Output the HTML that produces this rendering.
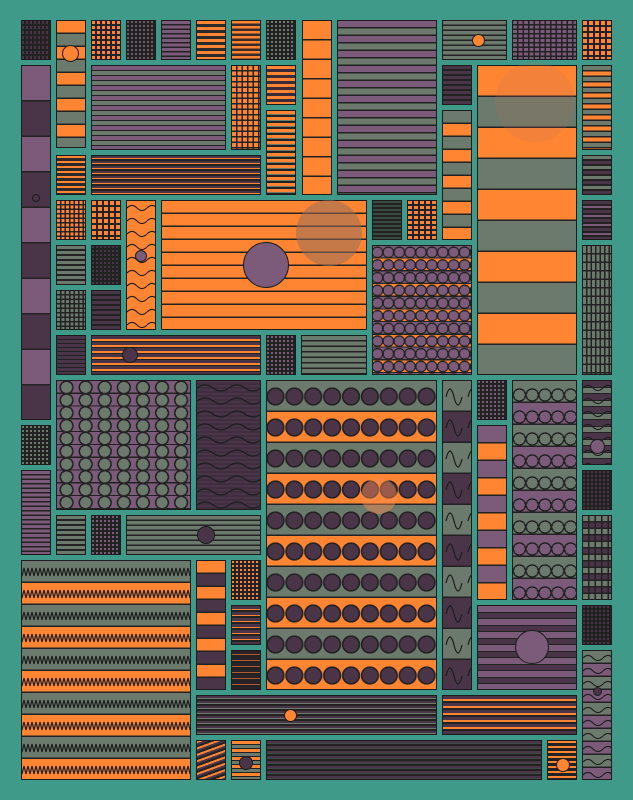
<!DOCTYPE html>
<html><head><meta charset="utf-8"><style>
*{margin:0;padding:0}
body{width:633px;height:800px;overflow:hidden;background:#3f9a89;position:relative}
.b{position:absolute;border:1.5px solid #1c1c1c;box-sizing:border-box;overflow:hidden}
.c{position:absolute;border-radius:50%;border:1.2px solid #1c1c1c;box-sizing:border-box}
svg.w{position:absolute;left:0;top:0;width:100%;height:100%}
</style></head><body>
<svg width="0" height="0" style="position:absolute"><defs>
<pattern id="wv" width="12" height="22" patternUnits="userSpaceOnUse"><path d="M0 11 Q3 3 6 11 T12 11" fill="none" stroke="#1c1c1c" stroke-width="1.2"/></pattern>
<pattern id="wv2" width="20" height="13" patternUnits="userSpaceOnUse"><path d="M0 7 Q5 2 10 7 T20 7" fill="none" stroke="#1c1c1c" stroke-width="1.1"/></pattern>
<pattern id="wv3" width="22" height="31" patternUnits="userSpaceOnUse"><path d="M3 16 Q7 0 11 16 T19 16" fill="none" stroke="#1c1c1c" stroke-width="1.2"/></pattern>
<pattern id="zz" width="8" height="22" patternUnits="userSpaceOnUse"><path d="M0 15 L2 7 L4 15 L6 7 L8 15" fill="none" stroke="#1c1c1c" stroke-width="1.2"/></pattern>
</defs></svg>

<!-- row 1 -->
<div class="b" style="left:21px;top:20px;width:30px;height:40px;background:repeating-linear-gradient(90deg,transparent 0 2px,#222 2px 4px),repeating-linear-gradient(transparent 0 3px,#222 3px 5px),#4a3448"></div>
<div class="b" style="left:56px;top:20px;width:30px;height:128px;background:repeating-linear-gradient(#ff8533 0 11.5px,#222 11.5px 13px,#6b7a6c 13px 24.5px,#222 24.5px 26px)"></div>
<div class="c" style="left:62px;top:45px;width:17px;height:17px;background:#ff8533"></div>
<div class="b" style="left:91px;top:20px;width:30px;height:40px;background:repeating-linear-gradient(90deg,transparent 0 3px,#222 3px 5px),repeating-linear-gradient(transparent 0 3px,#222 3px 5px),#ff8533"></div>
<div class="b" style="left:126px;top:20px;width:30px;height:40px;background:repeating-linear-gradient(90deg,transparent 0 2px,#222 2px 4px),repeating-linear-gradient(transparent 0 2px,#222 2px 4px),#6b5a6a"></div>
<div class="b" style="left:161px;top:20px;width:30px;height:40px;background:repeating-linear-gradient(#7b5a7a 0 3px,#222 3px 4.5px)"></div>
<div class="b" style="left:196px;top:20px;width:30px;height:40px;background:repeating-linear-gradient(#ff8533 0 3px,#2a2a2a 3px 6px)"></div>
<div class="b" style="left:231px;top:20px;width:30px;height:40px;background:repeating-linear-gradient(#ff8533 0 2.5px,#3a2a2a 2.5px 5px)"></div>
<div class="b" style="left:266px;top:20px;width:30px;height:40px;background:repeating-linear-gradient(90deg,transparent 0 2px,#222 2px 4px),repeating-linear-gradient(transparent 0 2px,#222 2px 4px),#6b7a6c"></div>
<div class="b" style="left:302px;top:20px;width:30px;height:175px;background:repeating-linear-gradient(#ff8533 0 18px,#222 18px 19.5px)"></div>
<div class="b" style="left:337px;top:20px;width:100px;height:175px;background:repeating-linear-gradient(#7b5a7a 0 6px,#222 6px 7.5px,#6b7a6c 7.5px 13.5px,#222 13.5px 15px)"></div>
<div class="b" style="left:442px;top:20px;width:65px;height:40px;background:repeating-linear-gradient(#6b7a6c 0 3.5px,#222 3.5px 5px)"></div>
<div class="c" style="left:472px;top:34px;width:13px;height:13px;background:#ff8533"></div>
<div class="b" style="left:512px;top:20px;width:65px;height:40px;background:repeating-linear-gradient(90deg,transparent 0 4px,#222 4px 5.5px),repeating-linear-gradient(transparent 0 3px,#222 3px 4.5px),#7b5a7a"></div>
<div class="b" style="left:582px;top:20px;width:30px;height:40px;background:repeating-linear-gradient(90deg,transparent 0 4px,#222 4px 6px),repeating-linear-gradient(transparent 0 4px,#222 4px 6px),#ff8533"></div>

<!-- row 2 -->
<div class="b" style="left:21px;top:65px;width:30px;height:355px;background:repeating-linear-gradient(#7b5a7a 0 34px,#222 34px 35.5px,#4a3448 35.5px 69.5px,#222 69.5px 71px)"></div>
<div class="c" style="left:32px;top:194px;width:8px;height:8px;background:#4a3448"></div>
<div class="b" style="left:91px;top:65px;width:135px;height:85px;background:repeating-linear-gradient(#7b5a7a 0 4px,#222 4px 5px,#6b7a6c 5px 9px,#222 9px 10px)"></div>
<div class="b" style="left:231px;top:65px;width:30px;height:85px;background:repeating-linear-gradient(90deg,transparent 0 4px,#222 4px 5.5px),repeating-linear-gradient(transparent 0 4px,#222 4px 5.5px),#ff8533"></div>
<div class="b" style="left:266px;top:65px;width:30px;height:40px;background:repeating-linear-gradient(#ff8533 0 3px,#3a2a3a 3px 6px)"></div>
<div class="b" style="left:266px;top:110px;width:30px;height:85px;background:repeating-linear-gradient(#ff8533 0 3px,#6b7a6c 3px 4px,#222 4px 6px)"></div>
<div class="b" style="left:442px;top:65px;width:30px;height:40px;background:repeating-linear-gradient(#4a3448 0 3px,#222 3px 5px)"></div>
<div class="b" style="left:442px;top:110px;width:30px;height:130px;background:repeating-linear-gradient(#6b7a6c 0 11.5px,#222 11.5px 13px,#ff8533 13px 24.5px,#222 24.5px 26px)"></div>
<div class="b" style="left:477px;top:65px;width:100px;height:310px;background:repeating-linear-gradient(#ff8533 0 29.5px,#222 29.5px 31px,#6b7a6c 31px 60.5px,#222 60.5px 62px)"></div>
<div class="c" style="left:495px;top:62px;width:80px;height:80px;border:none;background:rgba(190,110,90,0.18)"></div>
<div class="b" style="left:582px;top:65px;width:30px;height:85px;background:repeating-linear-gradient(#6b7a6c 0 4px,#222 4px 5.5px,#ff8533 5.5px 9.5px,#222 9.5px 11px)"></div>
<div class="b" style="left:56px;top:155px;width:30px;height:40px;background:repeating-linear-gradient(#ff8533 0 2px,#2a2a2a 2px 5px)"></div>
<div class="b" style="left:91px;top:155px;width:170px;height:40px;background:repeating-linear-gradient(#4a3448 0 2px,#ff8533 2px 3px,#222 3px 5px)"></div>
<div class="b" style="left:582px;top:155px;width:30px;height:40px;background:repeating-linear-gradient(#6b7a6c 0 3px,#222 3px 5px,#4a3448 5px 8px,#222 8px 10px)"></div>

<div class="b" style="left:56px;top:200px;width:30px;height:40px;background:repeating-linear-gradient(90deg,transparent 0 3px,#222 3px 4.5px),repeating-linear-gradient(transparent 0 3px,#222 3px 4.5px),#ff8533"></div>
<div class="b" style="left:91px;top:200px;width:30px;height:40px;background:repeating-linear-gradient(90deg,transparent 0 4px,#222 4px 6px),repeating-linear-gradient(transparent 0 4px,#222 4px 6px),#ff8533"></div>
<div class="b" style="left:126px;top:200px;width:30px;height:130px;background:#ff8533"><svg class="w"><rect width="100%" height="100%" fill="url(#wv2)"/></svg></div>
<div class="c" style="left:135px;top:250px;width:12px;height:12px;background:#7b5a7a"></div>
<div class="b" style="left:161px;top:200px;width:206px;height:130px;background:repeating-linear-gradient(#ff8533 0 11.5px,#222 11.5px 13px)"></div>
<div class="c" style="left:243px;top:242px;width:46px;height:46px;background:#7b5a7a"></div>
<div class="c" style="left:296px;top:200px;width:66px;height:66px;border:none;background:rgba(150,110,90,0.55)"></div>
<div class="b" style="left:372px;top:200px;width:30px;height:40px;background:repeating-linear-gradient(#3a4a40 0 2px,#222 2px 4px)"></div>
<div class="b" style="left:407px;top:200px;width:30px;height:40px;background:repeating-linear-gradient(90deg,transparent 0 4px,#222 4px 6px),repeating-linear-gradient(transparent 0 3px,#222 3px 5px),#ff8533"></div>
<div class="b" style="left:582px;top:200px;width:30px;height:40px;background:repeating-linear-gradient(#4a3448 0 3px,#222 3px 5px,#7b5a7a 5px 7px,#222 7px 9px)"></div>

<div class="b" style="left:56px;top:245px;width:30px;height:40px;background:repeating-linear-gradient(#6b7a6c 0 3px,#222 3px 5px)"></div>
<div class="b" style="left:91px;top:245px;width:30px;height:40px;background:repeating-linear-gradient(90deg,transparent 0 2px,#222 2px 4px),repeating-linear-gradient(transparent 0 2px,#222 2px 4px),#4a3448"></div>
<div class="b" style="left:372px;top:245px;width:100px;height:130px;background:radial-gradient(circle,#7b5a7a 0 4.6px,#222 4.6px 5.8px,transparent 6px) -1px 0/10.9px 12.7px,repeating-linear-gradient(#7b5a7a 0 11.5px,#222 11.5px 12.7px,#ff8533 12.7px 24.2px,#222 24.2px 25.4px)"></div>
<div class="b" style="left:582px;top:245px;width:30px;height:130px;background:repeating-linear-gradient(90deg,transparent 0 3px,#222 3px 4.5px),repeating-linear-gradient(transparent 0 7px,#222 7px 8.5px),#6b7a6c"></div>
<div class="b" style="left:56px;top:290px;width:30px;height:40px;background:repeating-linear-gradient(90deg,transparent 0 3px,#222 3px 4.5px),repeating-linear-gradient(transparent 0 3px,#222 3px 4.5px),#6b7a6c"></div>
<div class="b" style="left:91px;top:290px;width:30px;height:40px;background:repeating-linear-gradient(#4a3448 0 3px,#222 3px 5px)"></div>
<div class="b" style="left:56px;top:335px;width:30px;height:40px;background:repeating-linear-gradient(#4a3448 0 3px,#222 3px 4px)"></div>
<div class="b" style="left:91px;top:335px;width:170px;height:40px;background:repeating-linear-gradient(#4a3448 0 3px,#ff8533 3px 5px,#222 5px 6px)"></div>
<div class="c" style="left:122px;top:347px;width:16px;height:16px;background:#4a3448"></div>
<div class="b" style="left:266px;top:335px;width:30px;height:40px;background:repeating-linear-gradient(90deg,transparent 0 2px,#222 2px 4px),repeating-linear-gradient(transparent 0 2px,#222 2px 4px),#7b5a7a"></div>
<div class="b" style="left:301px;top:335px;width:66px;height:40px;background:repeating-linear-gradient(#6b7a6c 0 4px,#222 4px 5.5px)"></div>

<!-- middle -->
<div class="b" style="left:56px;top:380px;width:135px;height:130px;background:radial-gradient(circle,#6b7a6c 0 5.5px,#222 5.5px 7px,transparent 7.2px) 0 0/19.1px 12.8px,repeating-linear-gradient(#7b5a7a 0 11.6px,#222 11.6px 12.8px)"></div>
<div class="b" style="left:196px;top:380px;width:65px;height:130px;background:repeating-linear-gradient(#4a3448 0 2px,#3f2e3e 2px 4px)"><svg class="w"><pattern id="wv4" width="32" height="13" patternUnits="userSpaceOnUse"><path d="M0 7 Q8 1 16 7 T32 7" fill="none" stroke="#1c1c1c" stroke-width="1.1"/></pattern><rect width="100%" height="100%" fill="url(#wv4)"/></svg></div>
<div class="b" style="left:266px;top:380px;width:171px;height:310px;background:radial-gradient(circle,#4a3448 0 7.5px,#222 7.5px 9px,transparent 9.3px) -1px 0/18.9px 31px,repeating-linear-gradient(#6b7a6c 0 29.5px,#222 29.5px 31px,#ff8533 31px 60.5px,#222 60.5px 62px)"></div>
<div class="c" style="left:361px;top:478px;width:36px;height:36px;border:none;background:rgba(255,140,80,0.45)"></div>
<div class="b" style="left:442px;top:380px;width:30px;height:310px;background:repeating-linear-gradient(#6b7a6c 0 29.5px,#222 29.5px 31px,#4a3448 31px 60.5px,#222 60.5px 62px)"><svg class="w"><rect width="100%" height="100%" fill="url(#wv3)"/></svg></div>
<div class="b" style="left:477px;top:380px;width:30px;height:40px;background:repeating-linear-gradient(90deg,transparent 0 2px,#222 2px 4px),repeating-linear-gradient(transparent 0 2px,#222 2px 4px),#7b5a7a"></div>
<div class="b" style="left:477px;top:425px;width:30px;height:175px;background:repeating-linear-gradient(#7b5a7a 0 16px,#222 16px 17.5px,#ff8533 17.5px 33.5px,#222 33.5px 35px)"></div>
<div class="b" style="left:512px;top:380px;width:65px;height:220px;background:radial-gradient(circle,transparent 0 5.3px,#222 5.3px 6.6px,transparent 6.9px) 0 3px/12.8px 22px,repeating-linear-gradient(#6b7a6c 0 20.5px,#222 20.5px 22px,#7b5a7a 22px 42.5px,#222 42.5px 44px)"></div>
<div class="b" style="left:582px;top:380px;width:30px;height:85px;background:repeating-linear-gradient(#4a3448 0 6px,#222 6px 7px,#6b7a6c 7px 12px,#222 12px 13px)"><svg class="w"><rect width="100%" height="100%" fill="url(#wv2)"/></svg></div>
<div class="c" style="left:590px;top:439px;width:15px;height:15px;background:#7b5a7a"></div>
<div class="b" style="left:21px;top:425px;width:30px;height:40px;background:repeating-linear-gradient(90deg,transparent 0 2px,#222 2px 4px),repeating-linear-gradient(transparent 0 2px,#222 2px 4px),#6b7a6c"></div>
<div class="b" style="left:21px;top:470px;width:30px;height:85px;background:repeating-linear-gradient(#7b5a7a 0 3px,#222 3px 4.5px)"></div>
<div class="b" style="left:582px;top:470px;width:30px;height:40px;background:repeating-linear-gradient(90deg,transparent 0 2px,#222 2px 4px),repeating-linear-gradient(transparent 0 2px,#222 2px 4px),#4a3448"></div>
<div class="b" style="left:582px;top:515px;width:30px;height:85px;background:repeating-linear-gradient(90deg,transparent 0 5px,#222 5px 6.5px),repeating-linear-gradient(#6b7a6c 0 5px,#222 5px 6.5px,#4a3448 6.5px 11.5px,#222 11.5px 13px)"></div>
<div class="b" style="left:56px;top:515px;width:30px;height:40px;background:repeating-linear-gradient(#6b7a6c 0 3px,#222 3px 5px)"></div>
<div class="b" style="left:91px;top:515px;width:30px;height:40px;background:repeating-linear-gradient(90deg,transparent 0 2px,#222 2px 4px),repeating-linear-gradient(transparent 0 2px,#222 2px 4px),#7b5a7a"></div>
<div class="b" style="left:126px;top:515px;width:135px;height:40px;background:repeating-linear-gradient(#6b7a6c 0 3.5px,#222 3.5px 5px)"></div>
<div class="c" style="left:197px;top:526px;width:18px;height:18px;background:#4a3448"></div>

<!-- bottom -->
<div class="b" style="left:21px;top:560px;width:170px;height:220px;background:repeating-linear-gradient(#6b7a6c 0 20.5px,#222 20.5px 22px,#ff8533 22px 42.5px,#222 42.5px 44px)"><svg class="w"><rect width="100%" height="100%" fill="url(#zz)"/></svg></div>
<div class="b" style="left:196px;top:560px;width:30px;height:130px;background:repeating-linear-gradient(#ff8533 0 11.5px,#222 11.5px 13px,#4a3448 13px 24.5px,#222 24.5px 26px)"></div>
<div class="b" style="left:231px;top:560px;width:30px;height:40px;background:repeating-linear-gradient(90deg,transparent 0 2px,#222 2px 4px),repeating-linear-gradient(transparent 0 2px,#222 2px 4px),#ff8533"></div>
<div class="b" style="left:231px;top:605px;width:30px;height:40px;background:repeating-linear-gradient(#4a3448 0 3px,#ff8533 3px 4px,#222 4px 6px)"></div>
<div class="b" style="left:231px;top:650px;width:30px;height:40px;background:repeating-linear-gradient(#2a2228 0 3px,#b05a30 3px 4px,#222 4px 6px)"></div>
<div class="b" style="left:477px;top:605px;width:100px;height:85px;background:repeating-linear-gradient(#7b5a7a 0 6px,#222 6px 7px,#4a3448 7px 12px,#222 12px 13px)"></div>
<div class="c" style="left:515px;top:630px;width:34px;height:34px;background:#7b5a7a"></div>
<div class="b" style="left:582px;top:605px;width:30px;height:40px;background:repeating-linear-gradient(90deg,transparent 0 2px,#222 2px 4px),repeating-linear-gradient(transparent 0 2px,#222 2px 4px),#4a3448"></div>
<div class="b" style="left:582px;top:650px;width:30px;height:130px;background:repeating-linear-gradient(#6b7a6c 0 11.5px,#222 11.5px 13px,#7b5a7a 13px 24.5px,#222 24.5px 26px)"><svg class="w"><rect width="100%" height="100%" fill="url(#wv2)"/></svg></div>
<div class="c" style="left:593px;top:687px;width:9px;height:9px;background:#4a3448"></div>
<div class="b" style="left:196px;top:695px;width:241px;height:40px;background:repeating-linear-gradient(#4a3448 0 2px,#6b7a6c 2px 3px,#222 3px 5px)"></div>
<div class="c" style="left:284px;top:709px;width:13px;height:13px;background:#ff8533"></div>
<div class="b" style="left:442px;top:695px;width:135px;height:40px;background:repeating-linear-gradient(#4a3448 0 3px,#ff8533 3px 5px,#222 5px 7px)"></div>
<div class="b" style="left:196px;top:740px;width:30px;height:40px;background:repeating-linear-gradient(160deg,#ff8533 0 2px,#4a3448 2px 4px,#222 4px 6px)"></div>
<div class="b" style="left:231px;top:740px;width:30px;height:40px;background:repeating-linear-gradient(#ff8533 0 3px,#222 3px 4px,#6b7a6c 4px 7px,#222 7px 8px)"></div>
<div class="c" style="left:239px;top:756px;width:14px;height:14px;background:#4a3448"></div>
<div class="b" style="left:266px;top:740px;width:276px;height:40px;background:repeating-linear-gradient(#4a3448 0 2px,#3f4a44 2px 3px,#222 3px 5px)"></div>
<div class="b" style="left:547px;top:740px;width:30px;height:40px;background:repeating-linear-gradient(#ff8533 0 2px,#222 2px 5px)"></div>
<div class="c" style="left:556px;top:758px;width:14px;height:14px;background:#ff8533"></div>
</body></html>
